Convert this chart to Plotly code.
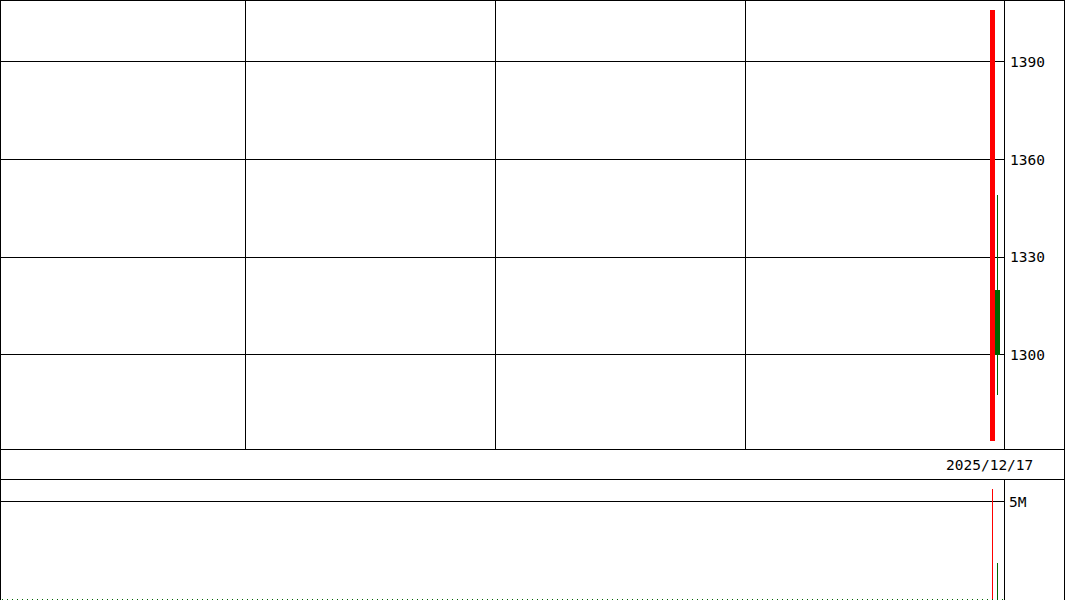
import plotly.graph_objects as go

# Données (positions des séances sur l'axe)
slots = [198, 199]
opens = [1273.7, 1320.0]
highs = [1406.0, 1349.0]
lows = [1273.7, 1287.7]
closes = [1406.0, 1300.0]
volumes = [5.64e6, 1.86e6]
last_date = "2025/12/17"

price_ticks = [1300, 1330, 1360, 1390]
volume_ticks = [5e6]
volume_ticktext = ["5M"]
month_lines = [48.5, 98.5, 148.5]

RED = "#ff0000"
GREEN = "#006400"
W, H = 1065, 600
PLOT_R = 1004 / W  # bord droit de la zone de tracé

colors = [RED if c >= o else GREEN for o, c in zip(opens, closes)]

fig = go.Figure()

# Mèches
fig.add_trace(go.Bar(
    x=slots, y=[h - l for h, l in zip(highs, lows)], base=lows,
    width=0.2, marker=dict(color=colors, line=dict(width=0)),
    xaxis="x", yaxis="y", hoverinfo="skip",
))
# Corps des bougies
fig.add_trace(go.Bar(
    x=slots, y=[abs(c - o) for o, c in zip(opens, closes)],
    base=[min(o, c) for o, c in zip(opens, closes)],
    width=1.0, marker=dict(color=colors, line=dict(width=0)),
    xaxis="x", yaxis="y",
))
# Volumes
fig.add_trace(go.Bar(
    x=slots, y=volumes, width=0.2,
    marker=dict(color=colors, line=dict(width=0)),
    xaxis="x2", yaxis="y2",
))

font = dict(family="DejaVu Sans Mono", size=14.5, color="black")

fig.update_layout(
    width=W, height=H,
    margin=dict(l=0, r=0, t=0, b=0),
    paper_bgcolor="white", plot_bgcolor="white",
    showlegend=False, barmode="overlay", bargap=0,
    font=font,
    xaxis=dict(
        domain=[0, PLOT_R], range=[-0.5, 200.3],
        tickvals=month_lines, showticklabels=False, ticks="",
        showgrid=True, gridcolor="black", gridwidth=1, zeroline=False,
        anchor="y",
    ),
    yaxis=dict(
        domain=[1 - 449 / H, 1], range=[1271.1, 1409.0],
        side="right", tickvals=price_ticks, ticks="",
        ticklabelstandoff=5,
        showgrid=True, gridcolor="black", gridwidth=1, zeroline=False,
        anchor="x",
    ),
    xaxis2=dict(
        domain=[0, PLOT_R], range=[-0.5, 200.3], matches="x",
        showticklabels=False, showgrid=False, zeroline=False, ticks="",
        anchor="y2",
    ),
    yaxis2=dict(
        domain=[0, 121 / H], range=[-0.0255e6, 6.148e6],
        side="right", tickvals=volume_ticks, ticktext=volume_ticktext,
        ticks="", ticklabelstandoff=4,
        showgrid=True, gridcolor="black", gridwidth=1, zeroline=False,
        anchor="x2",
    ),
)

def hline(y_px, x0=0, x1=1):
    fig.add_shape(type="line", xref="paper", yref="paper",
                  x0=x0, x1=x1, y0=1 - y_px / H, y1=1 - y_px / H,
                  line=dict(color="black", width=1))

def vline(x_px, y0_px, y1_px):
    fig.add_shape(type="line", xref="paper", yref="paper",
                  x0=x_px / W, x1=x_px / W,
                  y0=1 - y0_px / H, y1=1 - y1_px / H,
                  line=dict(color="black", width=1))

# Cadres
hline(0.5)
hline(449.5)
hline(479.5)
vline(0.5, 0, 600)
vline(1064.5, 0, 600)
vline(1004.5, 0, 449.5)
vline(1004.5, 479.5, 600)

# Ligne de base des volumes (séances sans volume)
fig.add_shape(type="line", xref="paper", yref="y2",
              x0=2 / W, x1=PLOT_R, y0=0, y1=0,
              line=dict(color=GREEN, width=1, dash="1px,4px"))

# Date de la dernière séance
fig.add_annotation(
    text=last_date, xref="paper", yref="paper",
    x=1035 / W, y=1 - 464.5 / H, xanchor="right", yanchor="middle",
    showarrow=False, font=font,
)

# Pas de marge autour du graphique dans la page, pas de barre d'outils
fig.write_html(
    "out.html",
    config={"displayModeBar": False},
    post_script="document.body.style.margin='0';",
)
